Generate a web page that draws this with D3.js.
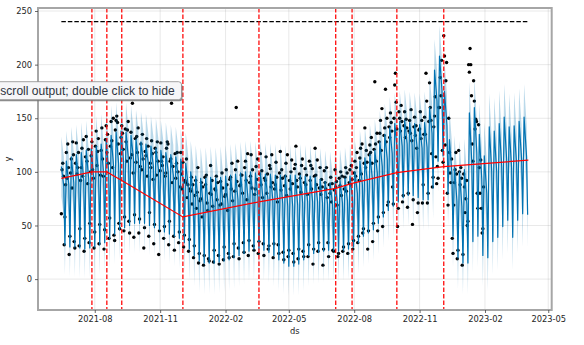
<!DOCTYPE html>
<html>
<head>
<meta charset="utf-8">
<script src="https://cdn.jsdelivr.net/npm/d3@7"></script>
<style>
  html, body { margin: 0; padding: 0; background: #fff; overflow: hidden; }
  svg { display: block; }
</style>
</head>
<body>
<svg id="chart" width="584" height="345"></svg>
<script>
// ---- data -------------------------------------------------------------
const startDate = "2021-06-15";          // first forecast / observation day
const forecastDays = 658;                // length of the forecast frame
const capValue = 240;                    // logistic growth cap

// fitted forecast per week: start-of-week peak, end-of-week level, weekend trough
const yhatHigh = [
  105, 110, 114, 116, 118, 120, 122, 124, 126, 130,
  134, 137, 138, 137, 134, 130, 128, 126, 124, 122,
  120, 118, 116, 114, 112, 108, 100, 96, 94, 94,
  95, 94, 95, 96, 97, 98, 99, 100, 100, 99,
  99, 98, 98, 97, 97, 97, 97, 97, 97, 96,
  96, 95, 93, 91, 90, 90, 92, 94, 96, 100,
  110, 113, 116, 120, 128, 135, 141, 145, 147, 148,
  146, 145, 144, 146, 160, 195, 208, 175, 130, 105,
  100, 102, 155, 160, 135, 115, 142, 138, 145, 151,
  142, 143, 147, 151
];
const yhatMid = [
  86, 88, 90, 91, 92, 93, 94, 96, 98, 101,
  105, 108, 110, 111, 112, 111, 109, 107, 105, 103,
  101, 99, 97, 95, 92, 86, 78, 72, 69, 68,
  68, 68, 69, 70, 72, 74, 75, 76, 77, 77,
  76, 75, 74, 72, 70, 68, 68, 69, 71, 72,
  72, 72, 71, 70, 70, 70, 71, 73, 76, 80,
  88, 91, 94, 99, 105, 112, 117, 121, 124, 126,
  125, 123, 122, 123, 136, 166, 176, 143, 98, 73,
  68, 70, 108, 118, 93, 80, 100, 100, 105, 111,
  103, 107, 112, 114
];
const yhatLow = [
  32, 30, 30, 29, 28, 29, 30, 32, 34, 38,
  42, 46, 48, 50, 52, 52, 52, 50, 48, 46,
  44, 42, 40, 38, 34, 28, 22, 17, 15, 15,
  15, 16, 17, 18, 20, 22, 24, 26, 28, 28,
  27, 25, 22, 18, 15, 12, 12, 14, 18, 22,
  24, 25, 26, 27, 27, 26, 27, 28, 30, 34,
  40, 43, 46, 52, 58, 64, 68, 72, 76, 78,
  78, 76, 74, 74, 85, 110, 115, 80, 40, 20,
  15, 15, 35, 40, 22, 20, 35, 39, 49, 55,
  39, 55, 61, 60
];
// half width of the uncertainty interval, per week
const intervalHalf = [
  28, 28, 28, 28, 28, 28, 28, 28, 28, 28,
  28, 28, 28, 28, 28, 28, 28, 28, 28, 28,
  28, 28, 28, 28, 28, 29, 29, 29, 29, 29,
  29, 29, 29, 29, 29, 29, 29, 29, 29, 29,
  29, 29, 29, 29, 29, 28, 28, 29, 29, 29,
  29, 29, 29, 29, 29, 29, 29, 29, 29, 29,
  29, 29, 29, 29, 29, 29, 29, 29, 29, 29,
  29, 29, 29, 29, 29, 29, 29, 29, 29, 29,
  29, 29, 29, 29, 29, 31, 31, 31, 31, 31,
  31, 31, 31, 31
];

// observed daily values, one row per week (Tue .. Mon)
const observed = [
  [61, 102, 108, 96, 32, 58, 88],
  [118, 94, 126, 104, 23, 40, 99],
  [112, 85, 128, 116, 35, 29, 108],
  [127, 98, 104, 118, 31, 47, 92],
  [104, 122, 96, 130, 26, 38, 114],
  [133, 110, 89, 121, 34, 52, 100],
  [115, 128, 102, 94, 29, 44, 124],
  [138, 106, 119, 131, 33, 51, 97],
  [120, 141, 112, 96, 28, 46, 130],
  [143, 118, 135, 108, 38, 57, 124],
  [147, 129, 104, 150, 41, 36, 139],
  [148, 152, 146, 126, 52, 47, 117],
  [132, 143, 136, 121, 45, 58, 140],
  [128, 110, 139, 147, 54, 43, 113],
  [137, 116, 164, 99, 39, 60, 131],
  [109, 133, 118, 141, 43, 56, 105],
  [126, 102, 135, 112, 29, 48, 119],
  [115, 131, 96, 124, 40, 62, 108],
  [104, 129, 117, 93, 33, 51, 122],
  [118, 97, 128, 110, 23, 45, 101],
  [127, 110, 106, 114, 38, 49, 96],
  [99, 122, 128, 126, 32, 54, 110],
  [112, 164, 90, 105, 40, 27, 117],
  [94, 108, 118, 100, 34, 44, 86],
  [118, 98, 84, 109, 30, 41, 92],
  [90, 112, 76, 88, 26, 37, 84],
  [82, 95, 70, 88, 20, 31, 78],
  [92, 66, 81, 104, 15, 24, 73],
  [75, 90, 58, 86, 13, 22, 95],
  [88, 97, 71, 64, 19, 17, 80],
  [106, 79, 92, 68, 16, 27, 84],
  [83, 96, 74, 90, 22, 14, 69],
  [91, 70, 99, 85, 18, 30, 77],
  [79, 102, 88, 64, 24, 20, 93],
  [95, 84, 108, 73, 21, 33, 82],
  [102, 160, 91, 110, 29, 19, 87],
  [88, 97, 97, 80, 34, 25, 104],
  [110, 92, 74, 117, 22, 36, 90],
  [96, 116, 85, 102, 31, 27, 79],
  [84, 105, 93, 112, 24, 35, 98],
  [117, 88, 101, 76, 33, 22, 94],
  [92, 114, 80, 98, 28, 31, 106],
  [103, 86, 116, 90, 20, 33, 84],
  [88, 109, 95, 72, 32, 24, 99],
  [119, 83, 102, 94, 25, 18, 87],
  [96, 108, 78, 116, 21, 27, 92],
  [84, 100, 111, 89, 24, 16, 103],
  [107, 124, 92, 86, 19, 28, 98],
  [94, 81, 106, 112, 26, 21, 90],
  [103, 88, 97, 79, 21, 32, 110],
  [92, 106, 84, 103, 14, 28, 96],
  [122, 97, 88, 111, 26, 34, 85],
  [104, 79, 93, 86, 13, 28, 101],
  [90, 84, 104, 76, 34, 21, 88],
  [80, 95, 72, 89, 27, 26, 83],
  [102, 86, 91, 69, 21, 24, 94],
  [87, 100, 78, 96, 26, 30, 84],
  [95, 104, 82, 99, 24, 33, 90],
  [102, 88, 106, 93, 28, 36, 99],
  [110, 96, 104, 118, 34, 40, 92],
  [113, 122, 98, 126, 43, 47, 108],
  [141, 104, 120, 109, 28, 45, 116],
  [125, 118, 132, 108, 35, 52, 121],
  [184, 126, 110, 136, 45, 58, 128],
  [136, 148, 120, 159, 49, 62, 134],
  [141, 177, 128, 150, 69, 72, 142],
  [132, 155, 146, 138, 86, 70, 150],
  [181, 192, 165, 140, 49, 66, 156],
  [150, 138, 162, 147, 72, 78, 143],
  [156, 132, 149, 141, 67, 80, 138],
  [148, 136, 158, 129, 51, 74, 142],
  [151, 134, 143, 122, 62, 71, 139],
  [140, 156, 131, 148, 71, 88, 135],
  [151, 135, 192, 166, 71, 80, 147],
  [183, 160, 148, 117, 86, 95, 142],
  [152, 170, 114, 89, 105, 94, 160],
  [160, 188, 171, 204, 120, 109, 227],
  [208, 125, 185, 202, 80, 69, 150],
  [118, 99, 90, 112, 38, 24, 69],
  [90, 102, 118, 98, 19, 27, 120],
  [100, 88, 104, 94, 13, 23, 98],
  [86, 62, 75, 92, 50, 54, 200],
  [193, 215, 200, 171, 126, 110, 185],
  [166, 140, 149, 147, 80, 66, 144],
  [104, 80, 111, 66, 43, 47, 86]
];

// trend: start, changepoints, end
const changepoints = ["2021-07-28", "2021-08-18", "2021-09-08", "2021-12-03",
  "2022-03-20", "2022-07-06", "2022-07-29", "2022-09-30", "2022-12-05"];
const trendValues = [94, 100, 100, 92, 58, 72, 84.7, 89.3, 99.2, 104.8, 111];

const xTickLabels = ["2021-08", "2021-11", "2022-02", "2022-05",
  "2022-08", "2022-11", "2023-02", "2023-05"];
const yTicks = [0, 50, 100, 150, 200, 250];

// ---- layout -----------------------------------------------------------
const W = 584, H = 345;
const plot = { left: 38, right: 551.7, top: 8, bottom: 310 };

const parseDay = d3.utcParse("%Y-%m-%d");
const parseMonth = d3.utcParse("%Y-%m");
const start = parseDay(startDate);
const dayAt = n => new Date(start.getTime() + n * 864e5);
const end = dayAt(forecastDays - 1);

// forecast polyline: peak at the start of each week, easing to the
// end-of-week level, weekend trough, then back up to the next peak
const fcst = [];
yhatHigh.forEach((hi, k) => {
  const h = intervalHalf[k];
  fcst.push({ date: dayAt(7 * k), yhat: hi, half: h });
  fcst.push({ date: dayAt(7 * k + 3.5), yhat: yhatMid[k], half: h });
  fcst.push({ date: dayAt(7 * k + 5), yhat: yhatLow[k], half: h });
});

const points = [];
observed.forEach((row, k) => row.forEach((v, d) => {
  if (v != null) points.push({ date: dayAt(7 * k + d), y: v });
}));

const trendDates = [start, ...changepoints.map(parseDay), end];
const trend = trendDates.map((d, i) => ({ date: d, y: trendValues[i] }));

// scales with matplotlib-style 5% margins
const span = end - start;
const x = d3.scaleUtc()
  .domain([new Date(+start - 0.05 * span), new Date(+end + 0.05 * span)])
  .range([plot.left, plot.right]);

const yMin = d3.min(fcst, d => d.yhat - d.half);
const yMax = Math.max(capValue, d3.max(fcst, d => d.yhat + d.half));
const yPad = 0.05 * (yMax - yMin);
const y = d3.scaleLinear()
  .domain([yMin - yPad, yMax + yPad])
  .range([plot.bottom, plot.top]);

// ---- drawing ----------------------------------------------------------
const svg = d3.select("#chart");
svg.append("rect").attr("width", W).attr("height", H).attr("fill", "#fff");

svg.append("defs").append("clipPath").attr("id", "plotClip")
  .append("rect")
  .attr("x", plot.left).attr("y", plot.top)
  .attr("width", plot.right - plot.left).attr("height", plot.bottom - plot.top);

// grid
const grid = svg.append("g").attr("stroke", "#808080").attr("stroke-opacity", 0.2).attr("stroke-width", 0.9);
xTickLabels.forEach(t => {
  const px = x(parseMonth(t));
  grid.append("line").attr("x1", px).attr("x2", px).attr("y1", plot.top).attr("y2", plot.bottom);
});
yTicks.forEach(t => {
  grid.append("line").attr("x1", plot.left).attr("x2", plot.right).attr("y1", y(t)).attr("y2", y(t));
});

const body = svg.append("g").attr("clip-path", "url(#plotClip)");

// observations
body.append("g").selectAll("circle").data(points).join("circle")
  .attr("cx", d => x(d.date)).attr("cy", d => y(d.y)).attr("r", 1.7)
  .attr("fill", "#000");

// forecast line
body.append("path").datum(fcst)
  .attr("d", d3.line().x(d => x(d.date)).y(d => y(d.yhat)))
  .attr("fill", "none").attr("stroke", "#0072B2").attr("stroke-width", 1.2)
  .attr("stroke-linejoin", "round");

// uncertainty band
body.append("path").datum(fcst)
  .attr("d", d3.area().x(d => x(d.date)).y0(d => y(d.yhat - d.half)).y1(d => y(d.yhat + d.half)))
  .attr("fill", "#0072B2").attr("fill-opacity", 0.27);

// cap
body.append("path").datum([start, end])
  .attr("d", d3.line().x(d => x(d)).y(() => y(capValue)))
  .attr("fill", "none").attr("stroke", "#000").attr("stroke-width", 1.25)
  .attr("stroke-dasharray", "4.5,2");

// trend
body.append("path").datum(trend)
  .attr("d", d3.line().x(d => x(d.date)).y(d => y(d.y)))
  .attr("fill", "none").attr("stroke", "#ff0000").attr("stroke-width", 1.25);

// changepoints
body.append("g").selectAll("line").data(changepoints.map(parseDay)).join("line")
  .attr("x1", d => x(d)).attr("x2", d => x(d))
  .attr("y1", plot.top).attr("y2", plot.bottom)
  .attr("stroke", "#ff0000").attr("stroke-width", 1.25)
  .attr("stroke-dasharray", "4.5,2");

// frame
svg.append("rect")
  .attr("x", plot.left).attr("y", plot.top)
  .attr("width", plot.right - plot.left).attr("height", plot.bottom - plot.top)
  .attr("fill", "none").attr("stroke", "#a6a6a6").attr("stroke-width", 2);

// axes
const font = "'DejaVu Sans', sans-serif";
const xAxis = d3.axisBottom(x)
  .tickValues(xTickLabels.map(parseMonth))
  .tickFormat((d, i) => xTickLabels[i])
  .tickSize(3).tickPadding(3);
const gx = svg.append("g").attr("transform", `translate(0,${plot.bottom})`).call(xAxis);
const yAxis = d3.axisLeft(y).tickValues(yTicks).tickFormat(d3.format("d")).tickSize(3).tickPadding(3);
const gy = svg.append("g").attr("transform", `translate(${plot.left},0)`).call(yAxis);
[gx, gy].forEach(g => {
  g.select(".domain").remove();
  g.selectAll(".tick line").attr("stroke", "#444").attr("stroke-width", 0.8);
  g.selectAll(".tick text").attr("fill", "#262626").style("font-family", font).style("font-size", "8.3px");
});

svg.append("text").text("ds")
  .attr("x", (plot.left + plot.right) / 2).attr("y", 334)
  .attr("text-anchor", "middle").attr("fill", "#262626")
  .style("font-family", font).style("font-size", "8.3px");
svg.append("text").text("y")
  .attr("transform", `translate(11,${(plot.top + plot.bottom) / 2}) rotate(-90)`)
  .attr("text-anchor", "middle").attr("fill", "#262626")
  .style("font-family", font).style("font-size", "8.3px");

// output-area hint overlay
const tip = svg.append("g");
tip.append("rect").attr("x", -8).attr("y", 83.2).attr("width", 190.5).attr("height", 18)
  .attr("rx", 3).attr("fill", "#6f6f6f").attr("opacity", 0.8);
tip.append("rect").attr("x", -8).attr("y", 81.7).attr("width", 189.5).attr("height", 18)
  .attr("rx", 3).attr("fill", "#f6f6f8").attr("stroke", "#8c8c8c").attr("stroke-width", 0.8);
const tipText = tip.append("text").text("scroll output; double click to hide")
  .attr("x", 0.3).attr("y", 94.7).attr("fill", "#2e3440")
  .style("font-family", "'Liberation Sans', Arial, sans-serif").style("font-size", "12px");
const tw = tipText.node().getComputedTextLength();
tipText.style("font-size", (12 * 174.5 / tw).toFixed(2) + "px");
</script>
</body>
</html>
